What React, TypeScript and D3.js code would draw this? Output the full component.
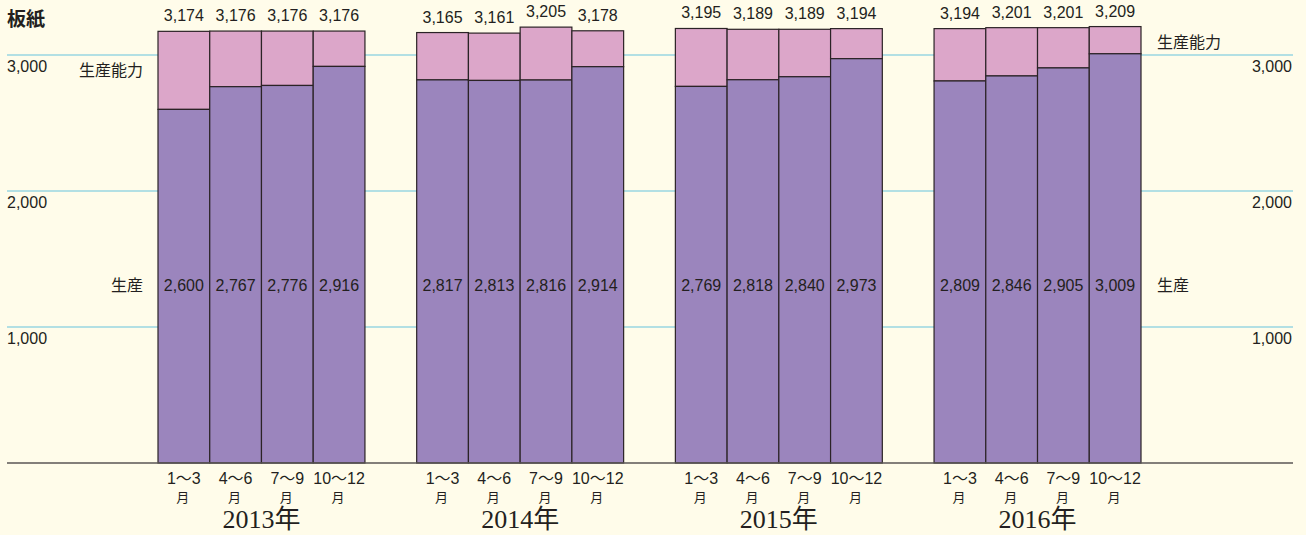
import React from "react";
import * as d3 from "d3";

const years = ["2013", "2014", "2015", "2016"];
const quarters = ["1〜3", "4〜6", "7〜9", "10〜12"];
const capacity = [
  [3174, 3176, 3176, 3176],
  [3165, 3161, 3205, 3178],
  [3195, 3189, 3189, 3194],
  [3194, 3201, 3201, 3209],
];
const production = [
  [2600, 2767, 2776, 2916],
  [2817, 2813, 2816, 2914],
  [2769, 2818, 2840, 2973],
  [2809, 2846, 2905, 3009],
];
const yTicks = [1000, 2000, 3000];

const W = 1306;
const H = 535;
const sans = "'Liberation Sans', Arial, 'Noto Sans CJK JP', sans-serif";
const jp = "'Noto Sans CJK JP', sans-serif";
const serif = "'Liberation Serif', 'Noto Sans CJK JP', serif";

const App: React.FC = () => {
  const y = d3.scaleLinear().domain([0, 3000]).range([463, 55]);
  const xGroup = d3
    .scaleBand<string>()
    .domain(years)
    .range([158, 1141])
    .paddingInner(0.2)
    .paddingOuter(0);
  const xQ = d3
    .scaleBand<string>()
    .domain(quarters)
    .range([0, xGroup.bandwidth()])
    .padding(0);
  const fmt = d3.format(",");
  const prodLabelY = 291;

  return (
    <svg
      width={W}
      height={H}
      style={{ position: "absolute", left: 0, top: 0, background: "#fffcea" }}
    >
      <rect width={W} height={H} fill="#fffcea" />
      {yTicks.map((t) => (
        <g key={t}>
          <line x1={7} x2={1293} y1={y(t)} y2={y(t)} stroke="#66c3dd" strokeWidth={1} />
          <text x={7} y={y(t) + 17} fontFamily={sans} fontSize={16} fill="#231f20">
            {fmt(t)}
          </text>
          <text x={1292} y={y(t) + 17} fontFamily={sans} fontSize={16} fill="#231f20" textAnchor="end">
            {fmt(t)}
          </text>
        </g>
      ))}
      <text x={7} y={26} fontFamily={jp} fontSize={19} fontWeight="bold" fill="#231f20">
        板紙
      </text>

      {years.map((yr, gi) => {
        const gx = xGroup(yr)!;
        return (
          <g key={yr} transform={`translate(${gx},0)`}>
            {quarters.map((q, qi) => {
              const bx = xQ(q)!;
              const bw = xQ.bandwidth();
              const cap = capacity[gi][qi];
              const prod = production[gi][qi];
              return (
                <g key={q}>
                  <rect
                    x={bx}
                    y={y(cap)}
                    width={bw}
                    height={y(prod) - y(cap)}
                    fill="#dca6c9"
                    stroke="#2b2326"
                    strokeWidth={1.2}
                  />
                  <rect
                    x={bx}
                    y={y(prod)}
                    width={bw}
                    height={y(0) - y(prod)}
                    fill="#9b85bd"
                    stroke="#2b2326"
                    strokeWidth={1.2}
                  />
                  <text
                    x={bx + bw / 2}
                    y={y(cap) - 10}
                    textAnchor="middle"
                    fontFamily={sans}
                    fontSize={16}
                    fill="#231f20"
                  >
                    {fmt(cap)}
                  </text>
                  <text
                    x={bx + bw / 2}
                    y={prodLabelY}
                    textAnchor="middle"
                    fontFamily={sans}
                    fontSize={16}
                    fill="#231f20"
                  >
                    {fmt(prod)}
                  </text>
                  <text
                    x={bx + bw / 2}
                    y={484}
                    textAnchor="middle"
                    fontFamily={sans}
                    fontSize={16}
                    fill="#231f20"
                  >
                    {q}
                  </text>
                  <text
                    x={bx + bw / 2 - 1}
                    y={502}
                    textAnchor="middle"
                    fontFamily={jp}
                    fontSize={13}
                    fill="#231f20"
                  >
                    月
                  </text>
                </g>
              );
            })}
            <text
              x={xGroup.bandwidth() / 2}
              y={528}
              textAnchor="middle"
              fontFamily={serif}
              fontSize={26}
              fill="#231f20"
            >
              {yr}年
            </text>
          </g>
        );
      })}

      <line x1={7} x2={1293} y1={y(0)} y2={y(0)} stroke="#5a5655" strokeWidth={1.5} />

      <text x={143} y={76} textAnchor="end" fontFamily={jp} fontSize={16} fill="#231f20">
        生産能力
      </text>
      <text x={143} y={prodLabelY} textAnchor="end" fontFamily={jp} fontSize={16} fill="#231f20">
        生産
      </text>
      <text x={1157} y={48} fontFamily={jp} fontSize={16} fill="#231f20">
        生産能力
      </text>
      <text x={1157} y={prodLabelY} fontFamily={jp} fontSize={16} fill="#231f20">
        生産
      </text>
    </svg>
  );
};

export default App;
